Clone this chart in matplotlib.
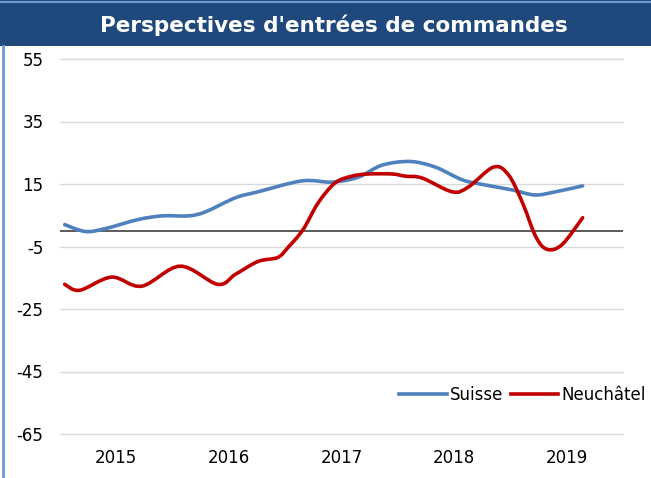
import numpy as np
import matplotlib
matplotlib.use("Agg")
import matplotlib.pyplot as plt
from matplotlib.path import Path
from matplotlib.patches import PathPatch, Rectangle
from matplotlib.lines import Line2D

plt.rcParams["axes.unicode_minus"] = False

# months counted from Jan 2015 (0)
suisse_m = [0, 2.2, 4.3, 7.8, 10.4, 13.2, 15, 18.2, 20.6, 25.3, 28.5, 31.3, 33.8, 36.8,
            39.5, 42.4, 44.8, 47.7, 50.1, 52.3, 55.2]
suisse_v = [2.0, -0.2, 0.7, 3.6, 4.8, 4.8, 6.1, 10.6, 12.5, 16.0, 15.6, 17.2, 21.0, 22.2,
            20.4, 16.3, 14.7, 13.1, 11.5, 12.5, 14.4]

neuch_m = [0, 1.6, 5, 8.2, 12.3, 16.3, 18.2, 20.6, 22.7, 23.8, 25.4, 27, 28.8, 30.6, 32.3,
           34.9, 36.3, 38.1, 41.3, 43, 45.7, 47.3, 48.8, 50.2, 51.4, 53, 55.2]
neuch_v = [-17.1, -19.0, -14.8, -17.7, -11.3, -17.1, -13.9, -9.8, -8.5, -5.3, 0.4, 8.9,
           15.3, 17.5, 18.2, 18.2, 17.5, 16.9, 12.5, 14.0, 20.4, 17.9, 8.9, -1.8, -5.9,
           -4.4, 4.2]

years = ["2015", "2016", "2017", "2018", "2019"]
y_ticks = [55, 35, 15, -5, -25, -45, -65]

C_SUISSE = "#4F81BD"
C_NE = "#C00000"


def smooth_path(xs, ys):
    # excel-like smoothed line: bezier segments with catmull-rom control points
    pts = np.column_stack([xs, ys]).astype(float)
    verts = [pts[0]]
    codes = [Path.MOVETO]
    n = len(pts)
    for i in range(n - 1):
        p0 = pts[i - 1] if i > 0 else pts[i]
        p1 = pts[i]
        p2 = pts[i + 1]
        p3 = pts[i + 2] if i + 2 < n else pts[i + 1]
        c1 = p1 + (p2 - p0) / 6.0
        c2 = p2 - (p3 - p1) / 6.0
        verts += [c1, c2, p2]
        codes += [Path.CURVE4] * 3
    return Path(verts, codes)


fig = plt.figure(figsize=(6.51, 4.78), dpi=100)
ax = fig.add_axes([60 / 651, 1 - 434 / 478, 563 / 651, 375 / 478])

for m, v, c in [(suisse_m, suisse_v, C_SUISSE), (neuch_m, neuch_v, C_NE)]:
    ax.add_patch(PathPatch(smooth_path(m, v), facecolor="none", edgecolor=c,
                           lw=2.6, capstyle="round", zorder=3))

ax.set_xlim(-0.5, 59.5)
ax.set_ylim(-65, 55)
ax.set_yticks(y_ticks)
ax.set_xticks([5.5 + 12 * i for i in range(len(years))])
ax.set_xticklabels(years)
for t in y_ticks:
    ax.axhline(t, color="#D9D9D9", lw=1, zorder=1, clip_on=False)
ax.axhline(0, color="#404040", lw=1.2, zorder=2)
for s in ax.spines.values():
    s.set_visible(False)
ax.tick_params(length=0, labelsize=12, colors="#000000")
ax.tick_params(axis="y", pad=12)
ax.tick_params(axis="x", pad=11)

# legend
handles = [Line2D([], [], color=C_SUISSE, lw=2.6), Line2D([], [], color=C_NE, lw=2.6)]
fig.legend(handles, ["Suisse", "Neuchâtel"], loc="center left",
           bbox_to_anchor=(399 / 651, 1 - 395 / 478), ncol=2, frameon=False,
           fontsize=12, handlelength=2.85, handletextpad=0.2, columnspacing=0.45,
           borderaxespad=0, borderpad=0)

# title banner
fig.patches.append(Rectangle((0, 1 - 46 / 478), 1, 46 / 478, transform=fig.transFigure,
                             facecolor="#1F497D", edgecolor="none"))
fig.lines.append(Line2D([0, 1], [1 - 1.5 / 478, 1 - 1.5 / 478], transform=fig.transFigure,
                        color="#6F9BD1", lw=1.5))
fig.text(334 / 651, 1 - 25 / 478, "Perspectives d'entrées de commandes", color="white",
         fontsize=15.5, fontweight="bold", ha="center", va="center")
fig.lines.append(Line2D([3 / 651, 3 / 651], [0, 1 - 46 / 478], transform=fig.transFigure,
                        color="#6F9BD1", lw=2))

fig.savefig("out.png", dpi=100)
